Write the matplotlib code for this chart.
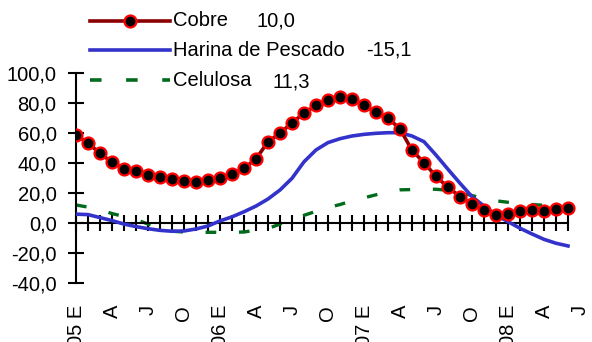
"""
Grafico de indices de precios (variacion % en 12 meses) para Cobre,
Harina de Pescado y Celulosa, enero 2005 - junio 2008.
"""

import numpy as np
import matplotlib
matplotlib.use("Agg")
import matplotlib.pyplot as plt
from matplotlib.lines import Line2D

plt.rcParams["font.family"] = ["Liberation Sans", "DejaVu Sans"]

# Datos (un valor por mes, ene-05 a jun-08)
cobre = [58.9, 53.5, 46.7, 40.7, 36.4, 35.1, 32.4, 30.9, 29.3, 28.4,
         27.3, 28.9, 30.1, 33.1, 36.7, 42.9, 54.4, 60.0, 67.1, 73.3,
         78.7, 82.2, 84.0, 83.1, 78.7, 74.0, 70.2, 62.9, 48.7, 40.4,
         31.3, 24.0, 17.8, 12.7, 8.9, 5.8, 6.4, 8.2, 8.9, 8.2,
         9.5, 10.0]
harina = [6.1, 5.8, 3.8, 1.8, -0.5, -2.2, -3.6, -4.7, -5.3, -5.1,
          -3.8, -1.8, 1.6, 4.3, 7.7, 11.5, 16.2, 22.2, 30.0, 41.0,
          48.9, 53.8, 56.4, 58.2, 59.3, 60.0, 60.4, 60.4, 58.2, 54.4,
          45.5, 36.0, 26.7, 17.8, 11.5, 5.5, 1.1, -3.3, -7.1, -10.7,
          -13.3, -15.1]
celulosa = [12.2, 10.8, 9.0, 6.5, 4.5, 2.5, -0.5, -3.5, -5.3, -5.8,
            -6.0, -6.0, -6.0, -6.0, -5.8, -4.6, -3.5, -0.5, 2.5, 5.3,
            8.0, 10.5, 12.5, 15.0, 17.0, 19.0, 21.0, 22.3, 22.5, 22.6,
            22.7, 22.0, 20.5, 18.5, 16.5, 15.0, 14.0, 13.0, 12.5, 12.0,
            11.6, 11.3]

etiquetas_meses = ["05 E", "A", "J", "O", "06 E", "A", "J", "O",
                   "07 E", "A", "J", "O", "08 E", "A", "J"]
valores_ultimos = ["10,0", "-15,1", "11,3"]
nombres = ["Cobre", "Harina de Pescado", "Celulosa"]

ROJO_OSCURO = "#8B0000"
AZUL = "#3333CC"
VERDE = "#006B1A"
TAM = 14.5


def fmt_coma(v):
    return f"{v:.1f}".replace(".", ",")


def main():
    fig = plt.figure(figsize=(5.92, 3.42), dpi=100)
    ax = fig.add_axes([76 / 592, 58.7 / 342, 510 / 592, 210 / 342])

    x = np.arange(len(cobre))

    ax.plot(x, celulosa, color=VERDE, lw=2.4, dashes=(3.2, 6.8), zorder=2)
    ax.plot(x, harina, color=AZUL, lw=2.6, zorder=3)
    ax.plot(x, cobre, color=ROJO_OSCURO, lw=2.6, marker="o", ms=8.6,
            mfc="black", mec="#FF0000", mew=1.6, zorder=4)

    ax.set_xlim(0, 42.5)
    ax.set_ylim(-40, 100)

    # ejes estilo Excel
    for lado in ("top", "right"):
        ax.spines[lado].set_visible(False)
    ax.spines["bottom"].set_position(("data", 0))
    ax.spines["bottom"].set_bounds(0, len(cobre) - 1)
    ax.spines["left"].set_bounds(-40, 100)
    for lado in ("left", "bottom"):
        ax.spines[lado].set_linewidth(1.5)

    ax.set_xticks(x)
    ax.set_xticklabels([])
    ax.tick_params(axis="x", direction="inout", length=12, width=1.5)

    ticks_y = np.arange(-40, 101, 20)
    ax.set_yticks(ticks_y)
    ax.set_yticklabels([fmt_coma(v) for v in ticks_y], fontsize=TAM)
    ax.tick_params(axis="y", direction="inout", length=12, width=1.5, pad=8)

    # etiquetas de meses (giradas)
    for i, etq in enumerate(etiquetas_meses):
        ax.text(i * 3, -54.5, etq, rotation=90, ha="center", va="top",
                fontsize=TAM, clip_on=False)

    # leyenda manual
    filas_y = [20.7, 50, 80]
    estilos = [dict(color=ROJO_OSCURO, lw=2.6),
               dict(color=AZUL, lw=2.6),
               dict(color=VERDE, lw=2.6, dashes=(3.2, 6.8))]
    x_valores = [257, 366, 272]
    for fila, nombre, estilo, xv, val in zip(filas_y, nombres, estilos,
                                             x_valores, valores_ultimos):
        yf = 1 - fila / 342
        fig.add_artist(Line2D([90 / 592, 170 / 592], [yf, yf], **estilo))
        fig.text(173 / 592, yf, nombre, fontsize=TAM, va="center", ha="left")
        fig.text(xv / 592, yf - (2 / 342 if nombre == "Celulosa" else 0),
                 val, fontsize=TAM, va="center", ha="left")
    fig.add_artist(Line2D([130 / 592], [1 - filas_y[0] / 342], marker="o",
                          ms=8.6, mfc="black", mec="#FF0000", mew=1.6))

    fig.savefig("out.png", dpi=100)


if __name__ == "__main__":
    main()
